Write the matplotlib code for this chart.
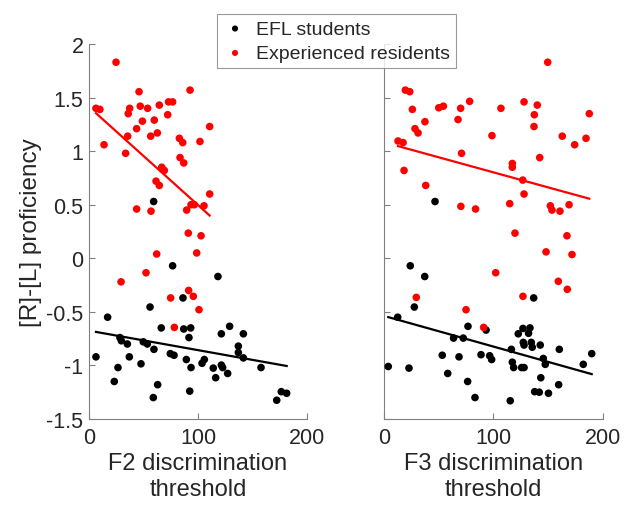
import numpy as np
import matplotlib
matplotlib.use("Agg")
import matplotlib.pyplot as plt

plt.rcParams['font.family'] = ['Liberation Sans', 'DejaVu Sans']
plt.rcParams['axes.unicode_minus'] = False

# F2 panel, EFL students (black)
f2_efl_x = [59.3, 6.4, 17.1, 23.2, 26.6, 28.4, 29.7, 35.2, 37, 47.7, 49.8, 53.5, 56, 59.6, 63,
            59, 66.3, 74.6, 78, 76.7, 86.2, 86.9, 93.3, 91.7, 89.3, 93.6, 92.4, 103.7, 105.8, 114,
            116.2, 118.3, 121.4, 129, 141.6, 137, 137, 141.6, 121.4, 122.6, 127.2, 157.8, 172.2,
            176.4, 181.3]
f2_efl_y = [0.53, -0.92, -0.55, -1.15, -1.02, -0.74, -0.77, -0.80, -0.92, -0.985, -0.78, -0.80,
            -0.455, -0.85, -1.18, -1.30, -0.65, -0.89, -0.905, -0.07, -0.37, -0.66, -0.65, -0.74,
            -0.945, -1.02, -1.24, -0.98, -0.945, -1.025, -1.115, -0.17, -0.705, -0.635, -0.705,
            -0.82, -0.88, -0.93, -0.997, -1.02, -1.075, -1.02, -1.325, -1.245, -1.26]

# F2 panel, experienced residents (red)
f2_res_x = [24.8, 6.4, 10, 13.8, 45.9, 37.3, 36, 47, 53.8, 49, 43.7, 35.5, 33.6, 59.9, 64.5,
            56.6, 62.7, 72.2, 73, 76.7, 92.7, 82.9, 86, 101.8, 110.7, 83.5, 86.9, 66.7, 69.1, 61.5,
            64.5, 110.7, 43.7, 56.9, 89.6, 93.6, 96.6, 105.5, 91.1, 102.8, 29.4, 52.3, 62.1, 98.8,
            74.9, 91.4, 95.7, 100.9, 78.3]
f2_res_y = [1.83, 1.40, 1.39, 1.06, 1.555, 1.40, 1.35, 1.42, 1.40, 1.28, 1.21, 1.14, 0.98, 1.29,
            1.43, 1.14, 1.17, 1.34, 1.46, 1.46, 1.57, 1.12, 1.08, 1.09, 1.23, 0.94, 0.89, 0.85, 0.82,
            0.72, 0.68, 0.60, 0.46, 0.44, 0.45, 0.50, 0.50, 0.49, 0.235, 0.21, -0.22, -0.135, 0.04,
            0.05, -0.37, -0.30, -0.355, -0.48, -0.645]

# F3 panel, EFL students (black)
f3_efl_x = [46.6, 24, 37.2, 27.7, 12.5, 3.9, 22.8, 76.7, 93.2, 63.5, 72.4, 53.2, 68.5, 58.2, 76.4,
            83.1, 88.6, 96.5, 98.3, 116.3, 117.2, 118.4, 125.7, 127.9, 115.3, 136.7, 122.6, 126.9,
            132, 133.3, 127.2, 127.9, 134.5, 135.4, 142.7, 145.5, 147.3, 143.2, 137.6, 141.8, 150.2,
            160.1, 189.7, 182, 159.5]
f3_efl_y = [0.53, -0.07, -0.17, -0.455, -0.55, -1.01, -1.025, -0.635, -0.67, -0.745, -0.745,
            -0.905, -0.92, -1.075, -1.15, -1.30, -0.90, -0.91, -0.945, -0.85, -0.97, -1.02, -1.02,
            -1.02, -1.33, -0.37, -0.705, -0.655, -0.70, -0.65, -0.785, -0.81, -0.785, -0.83, -0.81,
            -0.935, -0.99, -1.115, -1.245, -1.25, -1.26, -0.85, -0.89, -0.99, -1.18]

# F3 panel, experienced residents (red)
f3_res_x = [149.5, 19.5, 23.5, 25.9, 37.4, 28.3, 31.1, 12.8, 17.4, 18.3, 38.1, 50, 54.2, 70, 78.2,
            67.6, 70.8, 70.2, 83.6, 98.6, 106.8, 127.9, 140, 137.3, 137, 142.2, 117.2, 117.2, 126.7,
            127.9, 114.8, 119.6, 151.9, 153.4, 160.7, 169, 167.1, 187.5, 162.8, 174.1, 184.5, 148,
            171.7, 159.2, 167.4, 102, 29.5, 126.9, 74.9, 91]
f3_res_y = [1.83, 1.57, 1.555, 1.39, 1.275, 1.21, 1.17, 1.095, 1.08, 0.82, 0.68, 1.405, 1.42, 1.40,
            1.465, 1.295, 0.98, 0.485, 0.46, 1.145, 1.40, 1.46, 1.43, 1.34, 1.23, 0.94, 0.885, 0.85,
            0.73, 0.60, 0.51, 0.235, 0.49, 0.45, 0.44, 0.50, 0.21, 1.35, 1.14, 1.06, 1.12, 0.06,
            0.035, -0.215, -0.29, -0.135, -0.365, -0.355, -0.48, -0.645]

xlabels = ['F2 discrimination\nthreshold', 'F3 discrimination\nthreshold']
yticks = [-1.5, -1, -0.5, 0, 0.5, 1, 1.5, 2]
ytick_labels = ['-1.5', '-1', '-0.5', '0', '0.5', '1', '1.5', '2']

axis_grey = '#808080'
text_col = '#262626'

fig = plt.figure(figsize=(6.32, 5.06), dpi=100)
ax1 = fig.add_axes([0.1408, 0.170, 0.345, 0.741])
ax2 = fig.add_axes([0.6076, 0.170, 0.3465, 0.741])

panels = [(ax1, f2_efl_x, f2_efl_y, f2_res_x, f2_res_y),
          (ax2, f3_efl_x, f3_efl_y, f3_res_x, f3_res_y)]

for i, (ax, ex, ey, rx, ry) in enumerate(panels):
    ax.scatter(ex, ey, s=30, color='black', edgecolors='none', zorder=3, label='EFL students')
    ax.scatter(rx, ry, s=30, color='red', edgecolors='none', zorder=3,
               label='Experienced residents')

    # least squares lines over each group's range
    for xs, ys, c in [(ex, ey, 'black'), (rx, ry, 'red')]:
        xs = np.array(xs)
        p = np.polyfit(xs, ys, 1)
        xl = np.array([xs.min(), xs.max()])
        ax.plot(xl, np.polyval(p, xl), color=c, lw=1.6, zorder=4)

    ax.set_xlim(0, 200)
    ax.set_ylim(-1.5, 2)
    ax.set_xticks([0, 100, 200])
    ax.set_yticks(yticks)
    if i == 0:
        ax.set_yticklabels(ytick_labels)
        ax.set_ylabel('[R]-[L] proficiency', fontsize=17.5, color=text_col, labelpad=3)
    else:
        ax.set_yticklabels([])
    ax.set_xlabel(xlabels[i], fontsize=17, color=text_col, labelpad=3, linespacing=1.2)
    for side in ['top', 'right']:
        ax.spines[side].set_visible(False)
    for side in ['left', 'bottom']:
        ax.spines[side].set_color(axis_grey)
        ax.spines[side].set_linewidth(0.8)
    ax.tick_params(direction='in', length=4, width=0.8, color=axis_grey,
                   labelsize=15.5, labelcolor=text_col)
    ax.tick_params(axis='x', pad=6)
    ax.tick_params(axis='y', pad=4)

handles, labels = ax1.get_legend_handles_labels()
leg = fig.legend(handles, labels, loc='upper center', bbox_to_anchor=(0.533, 0.97),
                 borderaxespad=0, fontsize=14, frameon=True, fancybox=False,
                 handletextpad=0.5, borderpad=0.3, labelspacing=0.35, handlelength=1.2,
                 markerscale=0.8)
leg.get_frame().set_edgecolor(axis_grey)
leg.get_frame().set_linewidth(0.8)
for t in leg.get_texts():
    t.set_color(text_col)

fig.savefig('out.png', dpi=100, facecolor='white')
